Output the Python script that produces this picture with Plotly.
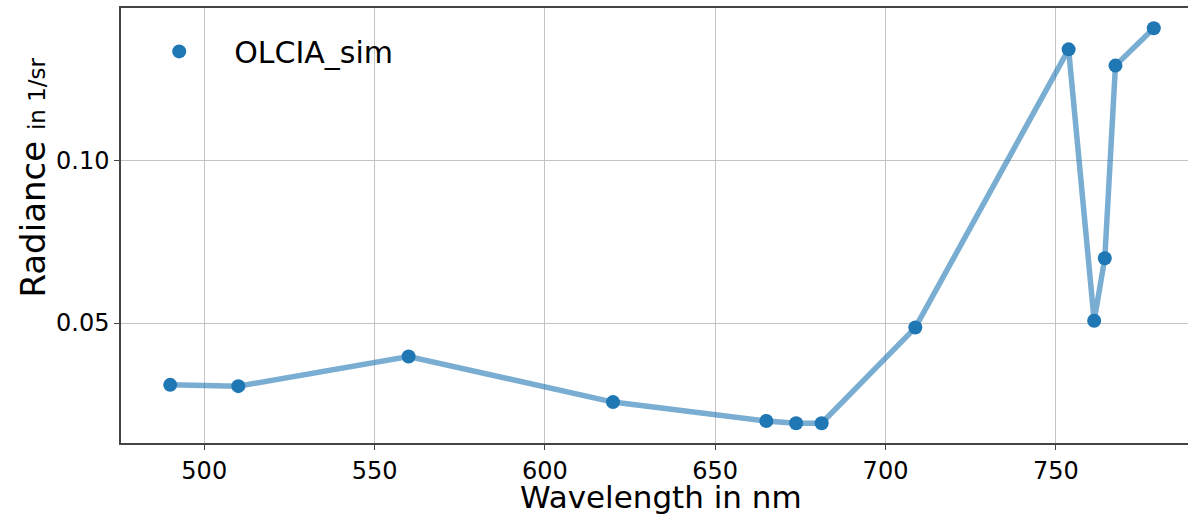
import plotly.graph_objects as go

wavelength = [490, 510, 560, 620, 665, 673.75, 681.25, 708.75, 753.75, 761.25, 764.375, 767.5, 778.75]
radiance = [0.0310, 0.0306, 0.0397, 0.0257, 0.0199, 0.0192, 0.0192, 0.0486, 0.1341, 0.0507, 0.0699, 0.1291, 0.1406]
series_name = "OLCIA_sim"
x_ticks = [500, 550, 600, 650, 700, 750]
y_ticks = [0.05, 0.10]
x_title = "Wavelength in nm"
y_title_main = "Radiance"
y_title_unit = "in 1/sr"

blue = "#1f77b4"
fig = go.Figure()
fig.add_trace(go.Scatter(
    x=wavelength, y=radiance, mode="lines",
    line=dict(color="rgba(31,119,180,0.6)", width=5.5),
    showlegend=False, hoverinfo="skip",
))
fig.add_trace(go.Scatter(
    x=wavelength, y=radiance, mode="markers", name=series_name,
    marker=dict(color=blue, size=14),
))

font = "DejaVu Sans"
fig.update_layout(
    width=1189, height=514,
    margin=dict(l=121, r=1, t=8, b=71),
    paper_bgcolor="white", plot_bgcolor="white",
    font=dict(family=font, color="black", size=24),
    legend=dict(
        x=0.003, y=0.96, xanchor="left", yanchor="top",
        font=dict(size=30, family=font), itemwidth=100,
        bgcolor="rgba(0,0,0,0)",
    ),
    xaxis=dict(
        range=[475.56, 788.8], tickvals=x_ticks, ticktext=[str(v) for v in x_ticks],
        showgrid=True, gridcolor="#c4c4c4", gridwidth=1, automargin=False,
        showline=True, linecolor="#444", linewidth=1.5, mirror=True,
        ticks="outside", ticklen=5, tickcolor="#444", zeroline=False,
    ),
    yaxis=dict(
        range=[0.01313, 0.1468], tickvals=y_ticks, ticktext=["0.05", "0.10"],
        showgrid=True, gridcolor="#c4c4c4", gridwidth=1, automargin=False,
        showline=True, linecolor="#444", linewidth=1.5, mirror=False,
        ticks="outside", ticklen=5, tickcolor="#444", zeroline=False,
    ),
    annotations=[
        dict(text=x_title, xref="paper", yref="paper", x=0.506, y=-0.123,
             xanchor="center", yanchor="middle", showarrow=False,
             font=dict(size=31, family=font, color="black")),
        dict(text=f"{y_title_main} <span style='font-size:23px'>{y_title_unit}</span>",
             xref="paper", yref="paper", x=-0.082, y=0.609, textangle=-90,
             xanchor="center", yanchor="middle", showarrow=False,
             font=dict(size=34, family=font, color="black")),
    ],
)
fig.write_html("out.html", post_script="document.body.style.margin='0';",
               config={"displayModeBar": False})
